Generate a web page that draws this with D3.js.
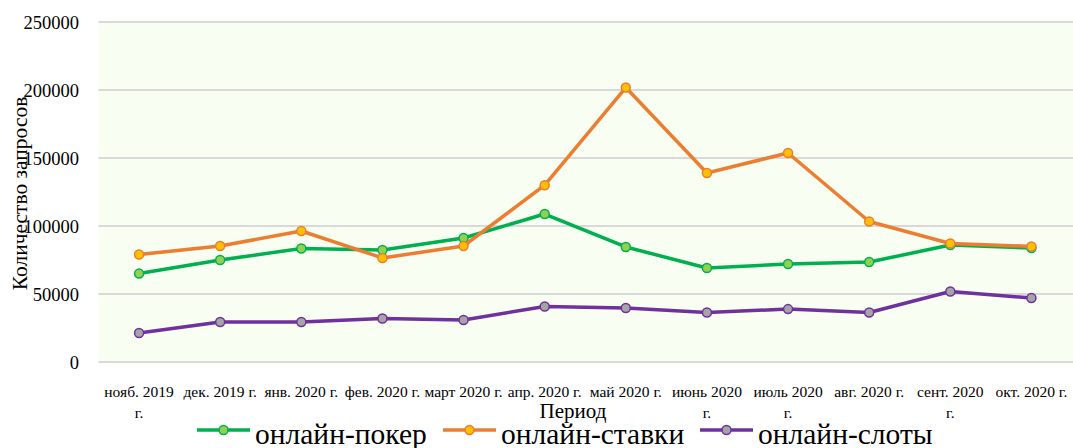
<!DOCTYPE html>
<html>
<head>
<meta charset="utf-8">
<script src="https://cdn.jsdelivr.net/npm/d3@7"></script>
<style>
  body { margin: 0; background: #fff; }
  text { font-family: "Liberation Serif", "Times New Roman", serif; fill: #000; }
</style>
</head>
<body>
<div id="chart"></div>
<script>
// data (\n = where the tick label wraps)
const months = ["нояб. 2019\nг.", "дек. 2019 г.", "янв. 2020 г.", "фев. 2020 г.", "март 2020 г.", "апр. 2020 г.",
  "май 2020 г.", "июнь 2020\nг.", "июль 2020\nг.", "авг. 2020 г.", "сент. 2020\nг.", "окт. 2020 г."];
const poker = [65000, 75000, 83500, 82400, 91200, 108800, 84600, 69100, 72000, 73500, 86000, 83800];
const stavki = [79000, 85300, 96300, 76500, 85300, 130000, 201800, 139000, 153700, 103300, 87100, 85000];
const sloty = [21300, 29400, 29400, 32000, 30900, 40800, 39700, 36400, 38900, 36400, 51800, 47000];
const yTicks = [0, 50000, 100000, 150000, 200000, 250000];

const series = [
  { name: "онлайн-покер", values: poker, line: "#00b050", fill: "#92d050" },
  { name: "онлайн-ставки", values: stavki, line: "#ed7d31", fill: "#ffc000" },
  { name: "онлайн-слоты", values: sloty, line: "#7030a0", fill: "#a5a5a5" }
];

const W = 1073, H = 448;
const plotL = 98.5, plotR = 1072, plotT = 22, plotB = 362;

const svg = d3.select("#chart").append("svg")
  .attr("width", W).attr("height", H);

const x = d3.scaleBand().domain(months).range([plotL, plotR]);
const y = d3.scaleLinear().domain([0, 250000]).range([plotB, plotT]);
const cx = d => x(d) + x.bandwidth() / 2;

svg.append("rect")
  .attr("x", plotL).attr("y", plotT)
  .attr("width", W - plotL).attr("height", plotB - plotT)
  .attr("fill", "#f8fef1");

// grid
svg.append("g").selectAll("line")
  .data(yTicks)
  .enter().append("line")
  .attr("x1", plotL).attr("x2", W)
  .attr("y1", d => y(d)).attr("y2", d => y(d))
  .attr("stroke", "#d9d9d9")
  .attr("stroke-width", 2);

// y labels
svg.append("g").selectAll("text")
  .data(yTicks)
  .enter().append("text")
  .attr("x", 79).attr("y", d => y(d) + 6.5)
  .attr("text-anchor", "end")
  .style("font-size", "18.5px")
  .text(d => d);

// x labels
svg.append("g").selectAll("text")
  .data(months)
  .enter().append("text")
  .attr("text-anchor", "middle")
  .style("font-size", "15.5px")
  .each(function (d) {
    d3.select(this).selectAll("tspan")
      .data(d.split("\n"))
      .enter().append("tspan")
      .attr("x", cx(d))
      .attr("y", (s, i) => 397 + i * 21)
      .text(s => s);
  });

// axis titles
svg.append("text")
  .attr("x", 573).attr("y", 418)
  .attr("text-anchor", "middle")
  .style("font-size", "21px")
  .text("Период");

svg.append("text")
  .attr("transform", "translate(27,193.5) rotate(-90)")
  .attr("text-anchor", "middle")
  .style("font-size", "21.5px")
  .text("Количество запросов");

// lines
const line = d3.line()
  .x((d, i) => cx(months[i]))
  .y(d => y(d));

series.forEach(s => {
  svg.append("path")
    .attr("d", line(s.values))
    .attr("fill", "none")
    .attr("stroke", s.line)
    .attr("stroke-width", 3.5)
    .attr("stroke-linejoin", "round");

  svg.append("g").selectAll("circle")
    .data(s.values)
    .enter().append("circle")
    .attr("cx", (d, i) => cx(months[i]))
    .attr("cy", d => y(d))
    .attr("r", 4.5)
    .attr("fill", s.fill)
    .attr("stroke", s.line)
    .attr("stroke-width", 1.5);
});

// legend
const legX = [197, 443, 700];
const lg = svg.append("g").selectAll("g")
  .data(series)
  .enter().append("g")
  .attr("transform", (d, i) => "translate(" + legX[i] + ",430)");

lg.append("line")
  .attr("x1", 0).attr("x2", 53)
  .attr("stroke", d => d.line)
  .attr("stroke-width", 3.5);
lg.append("circle")
  .attr("cx", 26.5).attr("r", 4.5)
  .attr("fill", d => d.fill)
  .attr("stroke", d => d.line)
  .attr("stroke-width", 1.5);
lg.append("text")
  .attr("x", 58).attr("y", 14)
  .style("font-size", "29.5px")
  .text(d => d.name);
</script>
</body>
</html>
